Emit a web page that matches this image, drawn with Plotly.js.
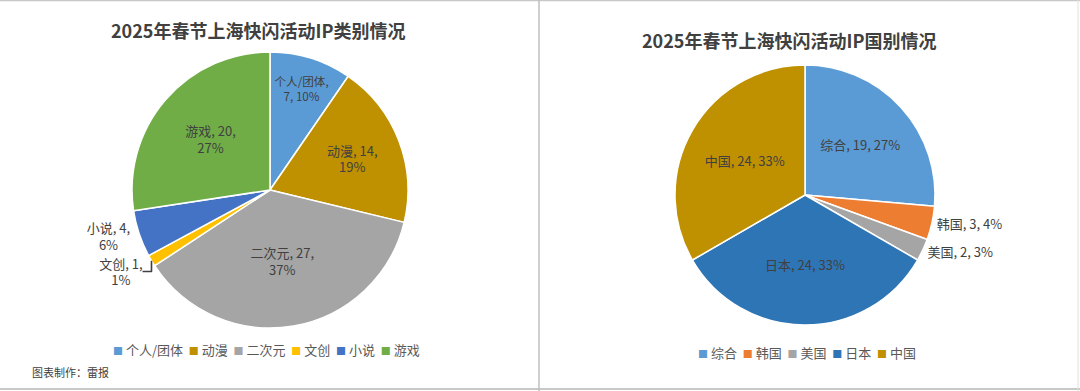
<!DOCTYPE html>
<html>
<head>
<meta charset="utf-8">
<script src="https://cdn.plot.ly/plotly-3.0.1.min.js"></script>
<style>html,body{margin:0;padding:0;background:#fff;}#chart{width:1080px;height:391px;}</style>
</head>
<body>
<div id="chart"></div>
<script>
// ---- data ----
var typeLabels = ['个人/团体', '动漫', '二次元', '文创', '小说', '游戏'];
var typeValues = [7, 14, 27, 1, 4, 20];
var typePct = ['10%', '19%', '37%', '1%', '6%', '27%'];
var typeColors = ['#5B9BD5', '#BF9000', '#A5A5A5', '#FFC000', '#4472C4', '#70AD47'];
var typeTextPos = ['inside', 'inside', 'inside', 'outside', 'outside', 'inside'];

var countryLabels = ['综合', '韩国', '美国', '日本', '中国'];
var countryValues = [19, 3, 2, 24, 24];
var countryPct = ['27%', '4%', '3%', '33%', '33%'];
var countryColors = ['#5B9BD5', '#ED7D31', '#A5A5A5', '#2E75B6', '#BF9000'];
var countryTextPos = ['inside', 'outside', 'outside', 'inside', 'inside'];

var titleLeft = '2025年春节上海快闪活动IP类别情况';
var titleRight = '2025年春节上海快闪活动IP国别情况';
var footer = '图表制作：雷报';

var FONT = '"Noto Sans CJK SC", "Noto Sans", sans-serif';
var TXT = '#404040';

var typeText = typeLabels.map(function (l, i) {
  return l.length > 3 ? (l + ',<br>' + typeValues[i] + ', ' + typePct[i])
                      : (l + ', ' + typeValues[i] + ',<br>' + typePct[i]);
});
var countryText = countryLabels.map(function (l, i) {
  return l + ', ' + countryValues[i] + ', ' + countryPct[i];
});

// compact Excel-style legend text built from the same labels/colours
function legendText(labels, colors) {
  return labels.map(function (l, i) {
    return '<span style="font-size:10px;color:' + colors[i] + '">■</span>&nbsp;' + l;
  }).join('&nbsp;&nbsp;');
}

var W = 1080, H = 391;
function px(x) { return x / W; }
function py(y) { return 1 - y / H; }

var traces = [
  {
    type: 'pie', labels: typeLabels, values: typeValues, text: typeText,
    textinfo: 'text', textposition: typeTextPos, insidetextorientation: 'horizontal',
    sort: false, direction: 'clockwise', rotation: 0,
    marker: { colors: typeColors, line: { color: '#ffffff', width: 1.5 } },
    textfont: { family: FONT, size: 13, color: TXT },
    insidetextfont: { family: FONT, size: 13, color: TXT },
    outsidetextfont: { family: FONT, size: 13, color: TXT },
    domain: { x: [px(132), px(408)], y: [py(328), py(52)] },
    showlegend: false, hoverinfo: 'label+value+percent'
  },
  {
    type: 'pie', labels: countryLabels, values: countryValues, text: countryText,
    textinfo: 'text', textposition: countryTextPos, insidetextorientation: 'horizontal',
    sort: false, direction: 'clockwise', rotation: 0,
    marker: { colors: countryColors, line: { color: '#ffffff', width: 1.5 } },
    textfont: { family: FONT, size: 13, color: TXT },
    insidetextfont: { family: FONT, size: 13, color: TXT },
    outsidetextfont: { family: FONT, size: 13, color: TXT },
    domain: { x: [px(675), px(935)], y: [py(325), py(65)] },
    showlegend: false, hoverinfo: 'label+value+percent'
  }
];

var layout = {
  width: W, height: H,
  margin: { l: 0, r: 0, t: 0, b: 0 },
  paper_bgcolor: '#ffffff',
  font: { family: FONT, color: TXT },
  showlegend: false,
  annotations: [
    { text: '<b>' + titleLeft + '</b>', xref: 'paper', yref: 'paper', x: px(258), y: py(30),
      xanchor: 'center', yanchor: 'middle', showarrow: false, font: { family: FONT, size: 18, color: TXT } },
    { text: '<b>' + titleRight + '</b>', xref: 'paper', yref: 'paper', x: px(789), y: py(40),
      xanchor: 'center', yanchor: 'middle', showarrow: false, font: { family: FONT, size: 18, color: TXT } },
    { text: legendText(typeLabels, typeColors), xref: 'paper', yref: 'paper', x: px(266), y: py(349),
      xanchor: 'center', yanchor: 'middle', showarrow: false, font: { family: FONT, size: 13, color: '#595959' } },
    { text: legendText(countryLabels, countryColors), xref: 'paper', yref: 'paper', x: px(807), y: py(352),
      xanchor: 'center', yanchor: 'middle', showarrow: false, font: { family: FONT, size: 13, color: '#595959' } },
    { text: footer, xref: 'paper', yref: 'paper', x: px(30), y: py(372),
      xanchor: 'left', yanchor: 'middle', showarrow: false, font: { family: FONT, size: 11, color: TXT } }
  ],
  shapes: [
    { type: 'line', xref: 'paper', yref: 'paper', x0: 0, x1: 1, y0: py(0.5), y1: py(0.5), line: { color: '#C8C8C8', width: 1.5 } },
    { type: 'line', xref: 'paper', yref: 'paper', x0: 0, x1: 1, y0: py(389), y1: py(389), line: { color: '#C8C8C8', width: 2 } },
    { type: 'line', xref: 'paper', yref: 'paper', x0: px(539), x1: px(539), y0: 0, y1: 1, line: { color: '#BFBFBF', width: 1.5 } },
    { type: 'line', xref: 'paper', yref: 'paper', x0: px(1078), x1: px(1078), y0: 0, y1: 1, line: { color: '#E0E0E0', width: 1 } }
  ]
};

Plotly.newPlot('chart', traces, layout, { displayModeBar: false, staticPlot: true });
</script>
</body>
</html>
